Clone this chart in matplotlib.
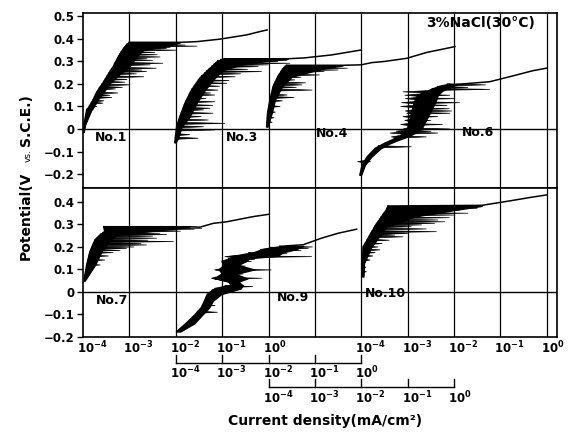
import numpy as np
import matplotlib.pyplot as plt
from matplotlib import transforms
from matplotlib.lines import Line2D
from matplotlib.collections import PolyCollection
from matplotlib.ticker import NullLocator

plt.rcParams['font.family'] = ['DejaVu Sans']
plt.rcParams['font.weight'] = 'bold'
plt.rcParams['mathtext.default'] = 'bf'

# ---- data: log10(current density, mA/cm2) vs potential (V vs SCE) ----
# each curve: active part (left edge / right edge of the dense band),
# passive tail and the transient spikes (potential, tip current)

# No.1  (first current scale)
no1_v = [-0.013, 0.020, 0.084, 0.095, 0.130, 0.165, 0.204, 0.245, 0.276, 0.320, 0.350, 0.373, 0.385]
no1_lo = [-4.00, -3.98, -3.92, -3.88, -3.78, -3.70, -3.57, -3.45, -3.35, -3.24, -3.15, -3.06, -3.00]
no1_hi = [-3.98, -3.95, -3.82, -3.78, -3.68, -3.55, -3.42, -3.20, -3.00, -2.85, -2.70, -2.10, -1.90]
no1_tail_i = [-3.00, -1.90, -1.55, -1.05, -0.47, -0.20, -0.03]
no1_tail_v = [0.385, 0.385, 0.388, 0.399, 0.418, 0.432, 0.440]
no1_spk_v = [0.060, 0.085, 0.100, 0.115, 0.125, 0.140, 0.150, 0.160, 0.178, 0.185,
             0.196, 0.208, 0.220, 0.232, 0.245, 0.255, 0.262, 0.270, 0.285, 0.292,
             0.305, 0.312, 0.320, 0.330, 0.340, 0.350, 0.357, 0.362, 0.368, 0.373]
no1_spk_i = [-3.85, -3.78, -3.70, -3.57, -3.55, -3.38, -3.42, -3.25, -3.30, -3.15,
             -2.99, -3.10, -3.05, -2.69, -2.85, -2.63, -2.73, -2.42, -2.55, -2.28,
             -2.50, -2.62, -2.34, -2.40, -2.45, -1.98, -2.20, -2.12, -1.54, -1.80]

# No.3  (second current scale)
no3_v = [-0.060, -0.040, 0.010, 0.055, 0.115, 0.173, 0.226, 0.262, 0.290, 0.300, 0.312]
no3_lo = [-4.02, -4.01, -3.98, -3.91, -3.80, -3.66, -3.48, -3.30, -3.15, -3.10, -2.95]
no3_hi = [-4.00, -3.95, -3.87, -3.70, -3.55, -3.37, -3.16, -2.98, -2.50, -2.10, -1.58]
no3_tail_i = [-2.95, -1.58, -1.22, -0.64, 0.00]
no3_tail_v = [0.312, 0.312, 0.316, 0.329, 0.351]
no3_spk_v = [-0.041, -0.025, -0.004, 0.010, 0.025, 0.040, 0.055, 0.070, 0.085, 0.092,
             0.105, 0.121, 0.135, 0.151, 0.160, 0.173, 0.190, 0.203, 0.215, 0.232,
             0.245, 0.255, 0.265, 0.277, 0.285, 0.292, 0.300, 0.305]
no3_spk_i = [-3.52, -3.70, -3.16, -3.40, -2.94, -3.30, -3.45, -3.20, -3.40, -3.26,
             -3.20, -3.16, -3.35, -3.16, -3.25, -3.09, -3.05, -2.90, -2.85, -2.72,
             -2.60, -2.15, -2.45, -2.22, -2.00, -1.54, -1.80, -1.60]

# No.4  (third current scale)
no4_v = [0.010, 0.070, 0.129, 0.188, 0.232, 0.267, 0.282]
no4_lo = [-4.04, -4.02, -3.97, -3.90, -3.80, -3.69, -3.61]
no4_hi = [-4.02, -3.93, -3.86, -3.71, -3.50, -2.85, -2.40]
no4_tail_i = [-3.61, -2.40, -2.00, -1.77, -1.50, -1.02, -0.59, 0.02]
no4_tail_v = [0.283, 0.283, 0.285, 0.295, 0.300, 0.314, 0.340, 0.366]
no4_spk_v = [0.030, 0.050, 0.075, 0.100, 0.125, 0.140, 0.151, 0.173, 0.185, 0.196,
             0.205, 0.218, 0.230, 0.240, 0.249, 0.255, 0.262, 0.270, 0.275]
no4_spk_i = [-3.92, -3.88, -3.85, -3.75, -3.70, -3.45, -3.60, -3.06, -3.40, -3.28,
             -3.20, -3.43, -3.30, -2.90, -3.15, -2.80, -2.50, -2.30, -2.55]

# No.6  (right-hand current scale)
no6_v = [-0.204, -0.160, -0.123, -0.086, -0.064, -0.049, -0.030, 0.000, 0.040, 0.080, 0.120, 0.150, 0.170, 0.190, 0.198]
no6_lo = [-4.03, -3.98, -3.87, -3.70, -3.50, -3.34, -3.15, -3.00, -2.95, -2.90, -2.85, -2.78, -2.55, -2.30, -2.10]
no6_hi = [-4.00, -3.92, -3.78, -3.58, -3.38, -3.20, -2.95, -2.70, -2.60, -2.50, -2.40, -2.35, -2.25, -2.02, -1.95]
no6_tail_i = [-1.95, -1.23, -0.73, -0.30, -0.01]
no6_tail_v = [0.198, 0.210, 0.236, 0.259, 0.270]
no6_spk_v = [-0.145, -0.145, -0.079, -0.035, -0.035, -0.018, -0.018, -0.010, -0.010, 0.000,
             0.000, 0.020, 0.020, 0.038, 0.038, 0.055, 0.055, 0.070, 0.070, 0.080,
             0.080, 0.090, 0.100, 0.105, 0.117, 0.117, 0.135, 0.135, 0.150, 0.150,
             0.165, 0.165, 0.176, 0.185, 0.196]
no6_spk_i = [-4.08, -3.80, -2.92, -3.35, -2.60, -3.38, -2.35, -3.25, -2.50, -3.10,
             -2.09, -3.15, -2.25, -3.06, -2.50, -3.10, -2.35, -3.02, -2.09, -3.05,
             -2.05, -2.10, -3.15, -2.15, -3.13, -1.88, -3.05, -2.00, -3.06, -2.09,
             -3.10, -2.30, -1.23, -1.70, -1.32]

# No.7  (first current scale)
no7_v = [0.050, 0.120, 0.179, 0.231, 0.253, 0.268, 0.290]
no7_lo = [-3.98, -3.92, -3.85, -3.74, -3.63, -3.53, -3.55]
no7_hi = [-3.96, -3.74, -3.60, -3.42, -3.28, -2.63, -1.70]
no7_tail_i = [-3.55, -1.70, -1.48, -1.19, -0.90, -0.33, 0.00]
no7_tail_v = [0.290, 0.290, 0.288, 0.305, 0.312, 0.335, 0.345]
no7_spk_v = [0.070, 0.095, 0.120, 0.142, 0.160, 0.175, 0.185, 0.194, 0.200, 0.209,
             0.215, 0.224, 0.230, 0.239, 0.248, 0.255, 0.261, 0.270, 0.275, 0.279, 0.283]
no7_spk_i = [-3.90, -3.82, -3.63, -3.53, -3.45, -3.35, -3.20, -3.06, -2.90, -2.63,
             -2.75, -2.05, -2.60, -2.41, -2.50, -2.20, -2.34, -1.90, -2.00, -1.60, -1.44]

# No.9  (second current scale)
no9_v = [-0.176, -0.140, -0.100, -0.070, -0.040, -0.010, 0.015, 0.030, 0.045, 0.060, 0.080, 0.100,
         0.120, 0.135, 0.150, 0.160, 0.175, 0.190, 0.205]
no9_lo = [-3.98, -3.78, -3.58, -3.45, -3.38, -3.32, -3.15, -2.80, -2.85, -3.15, -3.00, -3.05,
          -2.95, -3.00, -2.80, -2.70, -2.30, -2.10, -1.60]
no9_hi = [-3.90, -3.60, -3.42, -3.28, -3.20, -3.02, -2.60, -2.55, -2.65, -2.45, -2.70, -2.30,
          -2.65, -2.50, -2.40, -1.80, -1.70, -1.40, -1.25]
no9_tail_i = [-1.60, -1.25, -0.86, -0.50, -0.10]
no9_tail_v = [0.205, 0.210, 0.239, 0.261, 0.279]
no9_spk_v = [-0.090, -0.060, -0.020, 0.005, 0.024, 0.040, 0.061, 0.061, 0.080, 0.098,
             0.098, 0.115, 0.135, 0.145, 0.157, 0.157, 0.170, 0.185, 0.194, 0.200]
no9_spk_i = [-3.10, -3.15, -3.05, -2.90, -2.34, -2.60, -2.15, -3.23, -2.55, -1.94,
             -3.16, -2.50, -2.37, -2.30, -1.07, -2.94, -1.60, -1.30, -1.14, -1.05]

# No.10  (right-hand current scale)
no10_v = [0.068, 0.127, 0.200, 0.239, 0.290, 0.335, 0.364, 0.382]
no10_lo = [-3.97, -3.97, -3.96, -3.85, -3.71, -3.56, -3.46, -3.42]
no10_hi = [-3.95, -3.94, -3.78, -3.64, -3.46, -2.85, -1.98, -1.40]
no10_tail_i = [-3.42, -1.40, -0.76, -0.33, -0.01]
no10_tail_v = [0.382, 0.385, 0.406, 0.421, 0.431]
no10_spk_v = [0.090, 0.110, 0.142, 0.160, 0.175, 0.187, 0.200, 0.215, 0.230, 0.245,
              0.253, 0.260, 0.268, 0.280, 0.290, 0.298, 0.305, 0.312, 0.320, 0.330,
              0.342, 0.350, 0.364, 0.372]
no10_spk_i = [-3.89, -3.90, -3.81, -3.75, -3.70, -3.60, -3.64, -3.55, -3.40, -3.10,
              -3.28, -3.00, -2.38, -2.60, -2.92, -2.70, -2.42, -2.20, -2.35, -2.10,
              -1.98, -1.70, -1.88, -1.50]

# decade shift of each current scale on the common axis
upper = [('No.1', 0, no1_v, no1_lo, no1_hi, no1_tail_i, no1_tail_v, no1_spk_v, no1_spk_i),
         ('No.3', 2, no3_v, no3_lo, no3_hi, no3_tail_i, no3_tail_v, no3_spk_v, no3_spk_i),
         ('No.4', 4, no4_v, no4_lo, no4_hi, no4_tail_i, no4_tail_v, no4_spk_v, no4_spk_i),
         ('No.6', 6, no6_v, no6_lo, no6_hi, no6_tail_i, no6_tail_v, no6_spk_v, no6_spk_i)]
lower = [('No.7', 0, no7_v, no7_lo, no7_hi, no7_tail_i, no7_tail_v, no7_spk_v, no7_spk_i),
         ('No.9', 2, no9_v, no9_lo, no9_hi, no9_tail_i, no9_tail_v, no9_spk_v, no9_spk_i),
         ('No.10', 6, no10_v, no10_lo, no10_hi, no10_tail_i, no10_tail_v, no10_spk_v, no10_spk_i)]

upper_ticks = [0.5, 0.4, 0.3, 0.2, 0.1, 0.0, -0.1, -0.2]
lower_ticks = [0.4, 0.3, 0.2, 0.1, 0.0, -0.1, -0.2]
decade_labels = ['$10^{-4}$', '$10^{-3}$', '$10^{-2}$', '$10^{-1}$', '$10^{0}$']


def draw_curve(ax, shift, v, lo, hi, tail_i, tail_v, spk_v, spk_i, h=0.005):
    s = 10.0 ** shift
    lo_x = 10.0 ** np.array(lo) * s
    hi_x = 10.0 ** np.array(hi) * s
    ax.fill_betweenx(v, lo_x, hi_x, color='black', lw=0.8)
    ax.plot(lo_x, v, color='black', lw=1.1)
    ax.plot(10.0 ** np.array(tail_i) * s, tail_v, color='black', lw=1.1)
    # spikes: thin wedges from the curve out to the spike tip
    base = 10.0 ** np.interp(spk_v, v, lo) * s
    tips = 10.0 ** np.array(spk_i) * s
    wedges = [[(b, y - h), (t, y), (b, y + h)] for b, t, y in zip(base, tips, spk_v)]
    ax.add_collection(PolyCollection(wedges, facecolor='black', edgecolor='black', lw=0.5))


def tick_text(v):
    if v == 0:
        return '0'
    return ('%.1f' % v).replace('-', '\u2212')


fig = plt.figure(figsize=(5.68, 4.34), dpi=100)
ax_up = fig.add_axes([0.1461, 0.5668, 0.8345, 0.4021])
ax_lo = fig.add_axes([0.1461, 0.2235, 0.8345, 0.3433])

for ax, ylim, ticks in ((ax_up, (-0.262, 0.513), upper_ticks), (ax_lo, (-0.2, 0.462), lower_ticks)):
    ax.set_xscale('log')
    ax.set_xlim(1e-4, 10 ** 6.22)
    ax.set_ylim(*ylim)
    ax.set_xticks([10.0 ** k for k in range(-3, 7)])
    ax.xaxis.set_minor_locator(NullLocator())
    ax.tick_params(axis='x', length=0, labelbottom=False)
    ax.grid(axis='x', color='black', lw=0.9)
    ax.set_yticks(ticks)
    ax.set_yticklabels([tick_text(t) for t in ticks])
    ax.tick_params(axis='y', direction='out', length=4, width=1, pad=2, labelsize=8.5)
    ax.axhline(0, color='black', lw=1.0)
    for sp in ax.spines.values():
        sp.set_linewidth(1.2)

for ax, group in ((ax_up, upper), (ax_lo, lower)):
    for name, shift, v, lo, hi, ti, tv, sv, si in group:
        draw_curve(ax, shift, v, lo, hi, ti, tv, sv, si)

# curve names
label_pos_up = [('No.1', -3.40, -0.038), ('No.3', -0.57, -0.036), ('No.4', 1.37, -0.022), ('No.6', 4.51, -0.016)]
label_pos_lo = [('No.7', -3.37, -0.036), ('No.9', 0.53, -0.024), ('No.10', 2.53, -0.007)]
for ax, items in ((ax_up, label_pos_up), (ax_lo, label_pos_lo)):
    for name, lx, ly in items:
        ax.text(10 ** lx, ly, name, ha='center', va='center', fontsize=9, fontweight='bold')

fig.text(0.846, 0.947, '3%NaCl(30\u00b0C)', ha='center', va='center', fontsize=10, fontweight='bold')

# current scales under the plot
trans = transforms.blended_transform_factory(ax_lo.transData, fig.transFigure)
left_shift = transforms.ScaledTranslation(-6 / 100, 0, fig.dpi_scale_trans)
rows = [(list(range(-4, 1)), 0.198), (list(range(2, 7)), 0.198),
        (list(range(-2, 3)), 0.1406), (list(range(0, 5)), 0.083)]
for exps, y in rows:
    for k, lab in zip(exps, decade_labels):
        fig.text(10.0 ** k, y, lab, transform=trans + left_shift, ha='left', va='center', fontsize=8.5)

brackets = [(list(range(-2, 3)), 0.1636, 0.183), (list(range(0, 5)), 0.1083, 0.126)]
for exps, yb, yt in brackets:
    xs = [10.0 ** k for k in exps]
    fig.add_artist(Line2D([xs[0], xs[-1]], [yb, yb], transform=trans, color='black', lw=1.0))
    for x in xs:
        fig.add_artist(Line2D([x, x], [yb, yt], transform=trans, color='black', lw=1.0))

fig.text(0.572, 0.030, 'Current density(mA/cm\u00b2)', ha='center', va='center', fontsize=10, fontweight='bold')

fig.text(0.046, 0.5035, 'Potential(V', rotation=90, ha='center', va='center', fontsize=10, fontweight='bold')
fig.text(0.050, 0.6406, 'vs.', rotation=90, ha='center', va='center', fontsize=6.5, fontweight='normal')
fig.text(0.046, 0.7224, 'S.C.E.)', rotation=90, ha='center', va='center', fontsize=10, fontweight='bold')

fig.savefig('out.png', dpi=100)
